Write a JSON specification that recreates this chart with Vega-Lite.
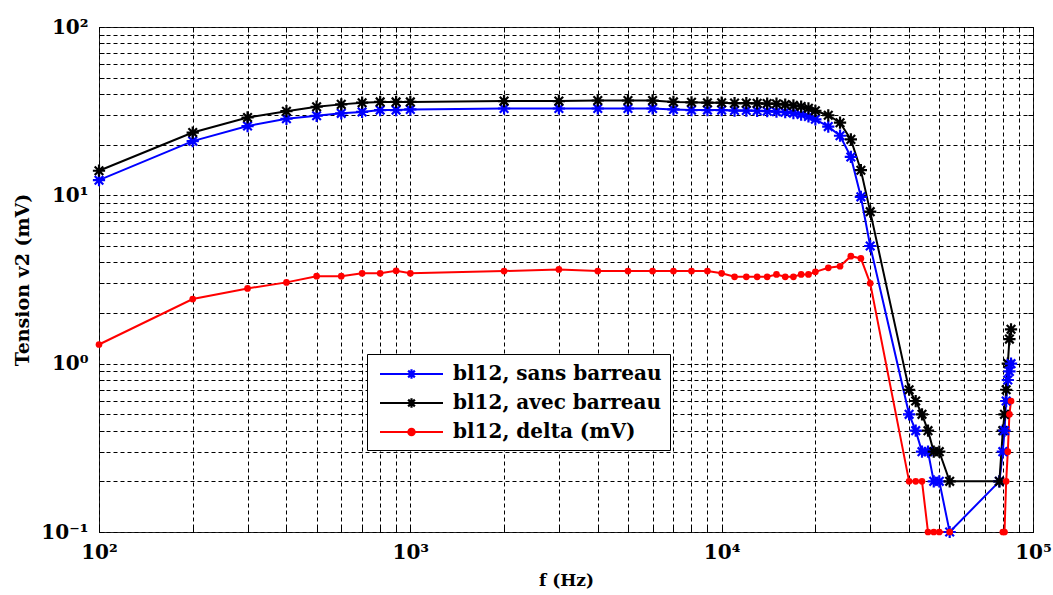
{
  "$schema": "https://vega.github.io/schema/vega-lite/v6.json",
  "width": 934,
  "height": 505,
  "autosize": {"type": "none"},
  "padding": {"left": 99, "top": 27, "right": 20, "bottom": 63},
  "background": "white",
  "config": {
    "view": {"stroke": "#222222", "strokeWidth": 1},
    "font": "DejaVu Serif"
  },
  "data": {
    "values": [
      {"f": 100, "sans": 12.3, "avec": 14.0, "delta": 1.30},
      {"f": 200, "sans": 21.0, "avec": 23.6, "delta": 2.42},
      {"f": 300, "sans": 25.8, "avec": 29.0, "delta": 2.80},
      {"f": 400, "sans": 28.5, "avec": 31.6, "delta": 3.04},
      {"f": 500, "sans": 29.7, "avec": 33.6, "delta": 3.31},
      {"f": 600, "sans": 30.7, "avec": 34.7, "delta": 3.31},
      {"f": 700, "sans": 31.3, "avec": 35.5, "delta": 3.44},
      {"f": 800, "sans": 32.1, "avec": 35.9, "delta": 3.44},
      {"f": 900, "sans": 32.1, "avec": 35.9, "delta": 3.56},
      {"f": 1000, "sans": 32.4, "avec": 35.9, "delta": 3.44},
      {"f": 2000, "sans": 32.8, "avec": 36.3, "delta": 3.55},
      {"f": 3000, "sans": 32.8, "avec": 36.3, "delta": 3.63},
      {"f": 4000, "sans": 32.8, "avec": 36.6, "delta": 3.55},
      {"f": 5000, "sans": 32.8, "avec": 36.6, "delta": 3.55},
      {"f": 6000, "sans": 32.8, "avec": 36.6, "delta": 3.55},
      {"f": 7000, "sans": 32.4, "avec": 35.9, "delta": 3.55},
      {"f": 8000, "sans": 32.1, "avec": 35.7, "delta": 3.55},
      {"f": 9000, "sans": 32.1, "avec": 35.5, "delta": 3.55},
      {"f": 10000, "sans": 32.1, "avec": 35.5, "delta": 3.44},
      {"f": 11000, "sans": 31.9, "avec": 35.3, "delta": 3.28},
      {"f": 12000, "sans": 31.9, "avec": 35.3, "delta": 3.28},
      {"f": 13000, "sans": 31.8, "avec": 35.2, "delta": 3.28},
      {"f": 14000, "sans": 31.6, "avec": 35.1, "delta": 3.28},
      {"f": 15000, "sans": 31.4, "avec": 35.0, "delta": 3.39},
      {"f": 16000, "sans": 31.2, "avec": 34.6, "delta": 3.28},
      {"f": 17000, "sans": 30.8, "avec": 34.2, "delta": 3.28},
      {"f": 18000, "sans": 30.2, "avec": 33.7, "delta": 3.39},
      {"f": 19000, "sans": 29.4, "avec": 32.9, "delta": 3.39},
      {"f": 20000, "sans": 28.3, "avec": 31.8, "delta": 3.51},
      {"f": 22000, "sans": 25.6, "avec": 29.9, "delta": 3.71},
      {"f": 24000, "sans": 22.6, "avec": 27.0, "delta": 3.79},
      {"f": 26000, "sans": 16.9, "avec": 21.5, "delta": 4.35},
      {"f": 28000, "sans": 9.8, "avec": 14.1, "delta": 4.22},
      {"f": 30000, "sans": 5.0, "avec": 8.0, "delta": 3.0},
      {"f": 40000, "sans": 0.5, "avec": 0.7, "delta": 0.2},
      {"f": 42000, "sans": 0.4, "avec": 0.6, "delta": 0.2},
      {"f": 44000, "sans": 0.3, "avec": 0.5, "delta": 0.2},
      {"f": 46000, "sans": 0.3, "avec": 0.4, "delta": 0.1},
      {"f": 48000, "sans": 0.2, "avec": 0.3, "delta": 0.1},
      {"f": 50000, "sans": 0.2, "avec": 0.3, "delta": 0.1},
      {"f": 54000, "sans": 0.1, "avec": 0.2, "delta": 0.1},
      {"f": 78000, "sans": 0.2, "avec": 0.2, "delta": null},
      {"f": 80000, "sans": 0.3, "avec": 0.4, "delta": 0.1},
      {"f": 81000, "sans": 0.4, "avec": 0.5, "delta": 0.1},
      {"f": 82000, "sans": 0.6, "avec": 0.7, "delta": 0.2},
      {"f": 83000, "sans": 0.8, "avec": 1.0, "delta": 0.3},
      {"f": 84000, "sans": 0.9, "avec": 1.4, "delta": 0.5},
      {"f": 85000, "sans": 1.0, "avec": 1.6, "delta": 0.6}
    ]
  },
  "transform": [{"fold": ["sans", "avec", "delta"], "as": ["serie", "v"]}],
  "layer": [
    {
      "mark": {"type": "line", "strokeWidth": 2, "invalid": "break-paths-filter-domains"},
      "encoding": {
        "x": {
          "field": "f", "type": "quantitative",
          "scale": {"type": "log", "domain": [100, 100000], "nice": false},
          "axis": {
            "orient": "bottom",
            "values": [100, 200, 300, 400, 500, 600, 700, 800, 900, 1000, 2000, 3000, 4000, 5000, 6000, 7000, 8000, 9000, 10000, 20000, 30000, 40000, 50000, 60000, 70000, 80000, 90000, 100000],
            "labelExpr": "datum.value == 100 ? '10²' : datum.value == 1000 ? '10³' : datum.value == 10000 ? '10⁴' : datum.value == 100000 ? '10⁵' : ''",
            "labelOverlap": false, "labelFlush": false,
            "labelFont": "DejaVu Serif", "labelFontWeight": "bold", "labelFontSize": 20, "labelColor": "#000000",
            "labelPadding": 15,
            "grid": true, "gridDash": [4, 3], "gridColor": "#000000", "gridOpacity": 1, "gridWidth": 1,
            "ticks": true, "tickSize": -5, "tickColor": "#000000",
            "domain": false,
            "title": "f (Hz)", "titleFont": "DejaVu Serif", "titleFontWeight": "bold", "titleFontSize": 17, "titleColor": "#000000", "titlePadding": 10
          }
        },
        "y": {
          "field": "v", "type": "quantitative",
          "scale": {"type": "log", "domain": [0.1, 100], "nice": false},
          "axis": {
            "orient": "left",
            "values": [0.1, 0.2, 0.3, 0.4, 0.5, 0.6, 0.7, 0.8, 0.9, 1, 2, 3, 4, 5, 6, 7, 8, 9, 10, 20, 30, 40, 50, 60, 70, 80, 90, 100],
            "labelExpr": "datum.value == 0.1 ? '10⁻¹' : datum.value == 1 ? '10⁰' : datum.value == 10 ? '10¹' : datum.value == 100 ? '10²' : ''",
            "labelOverlap": false, "labelFlush": false,
            "labelFont": "DejaVu Serif", "labelFontWeight": "bold", "labelFontSize": 20, "labelColor": "#000000",
            "labelPadding": 16,
            "grid": true, "gridDash": [4, 3], "gridColor": "#000000", "gridOpacity": 1, "gridWidth": 1,
            "ticks": true, "tickSize": -5, "tickColor": "#000000",
            "domain": false,
            "title": "Tension v2 (mV)", "titleFont": "DejaVu Serif", "titleFontWeight": "bold", "titleFontSize": 19, "titleColor": "#000000", "titlePadding": 8
          }
        },
        "color": {
          "field": "serie", "type": "nominal",
          "scale": {"domain": ["sans", "avec", "delta"], "range": ["#0000ff", "#000000", "#ff0000"]},
          "legend": {
            "orient": "none", "legendX": 268, "legendY": 327,
            "title": null,
            "strokeColor": "#000000", "fillColor": "#ffffff", "padding": 8,
            "labelExpr": "datum.value == 'sans' ? 'bl12, sans barreau' : datum.value == 'avec' ? 'bl12, avec barreau' : 'bl12, delta (mV)'",
            "labelFont": "DejaVu Serif", "labelFontWeight": "bold", "labelFontSize": 20, "labelColor": "#000000",
            "labelLimit": 400,
            "symbolSize": 441, "symbolOffset": 24.5, "labelOffset": 29.5, "rowPadding": 7,
            "encode": {
              "symbols": {
                "update": {
                  "shape": {"signal": "datum.value === 'delta' ? 'M-3,0H3M-0.3,0A0.3,0.3 0 1,1 0.3,0A0.3,0.3 0 1,1 -0.3,0Z' : 'M-3,0H3M0,-0.45V0.45M-0.32,-0.32L0.32,0.32M-0.32,0.32L0.32,-0.32'"},
                  "fill": {"signal": "datum.value === 'delta' ? '#ff0000' : 'transparent'"},
                  "strokeWidth": {"value": 2.2},
                  "size": {"value": 441},
                  "opacity": {"value": 1}
                }
              }
            }
          }
        },
        "detail": {"field": "serie"}
      }
    },
    {
      "transform": [{"filter": "datum.serie != 'delta'"}],
      "mark": {"type": "point", "filled": false, "strokeWidth": 2.2, "size": 150, "opacity": 1,
               "shape": "M-1,0L1,0M0,-1L0,1M-0.7,-0.7L0.7,0.7M-0.7,0.7L0.7,-0.7"},
      "encoding": {
        "x": {
          "field": "f", "type": "quantitative",
          "scale": {"type": "log", "domain": [100, 100000], "nice": false},
          "axis": {
            "orient": "top",
            "values": [100, 200, 300, 400, 500, 600, 700, 800, 900, 1000, 2000, 3000, 4000, 5000, 6000, 7000, 8000, 9000, 10000, 20000, 30000, 40000, 50000, 60000, 70000, 80000, 90000, 100000],
            "labels": false, "grid": false, "domain": false, "title": null,
            "ticks": true, "tickSize": -5, "tickColor": "#000000"
          }
        },
        "y": {
          "field": "v", "type": "quantitative",
          "scale": {"type": "log", "domain": [0.1, 100], "nice": false},
          "axis": {
            "orient": "right",
            "values": [0.1, 0.2, 0.3, 0.4, 0.5, 0.6, 0.7, 0.8, 0.9, 1, 2, 3, 4, 5, 6, 7, 8, 9, 10, 20, 30, 40, 50, 60, 70, 80, 90, 100],
            "labels": false, "grid": false, "domain": false, "title": null,
            "ticks": true, "tickSize": -5, "tickColor": "#000000"
          }
        },
        "color": {"field": "serie", "type": "nominal"}
      }
    },
    {
      "transform": [{"filter": "datum.serie == 'delta'"}],
      "mark": {"type": "point", "filled": true, "size": 45, "opacity": 1, "shape": "circle"},
      "encoding": {
        "x": {"field": "f", "type": "quantitative", "scale": {"type": "log", "domain": [100, 100000], "nice": false}, "axis": null},
        "y": {"field": "v", "type": "quantitative", "scale": {"type": "log", "domain": [0.1, 100], "nice": false}, "axis": null},
        "color": {"field": "serie", "type": "nominal"}
      }
    }
  ],
  "resolve": {"axis": {"x": "independent", "y": "independent"}}
}
